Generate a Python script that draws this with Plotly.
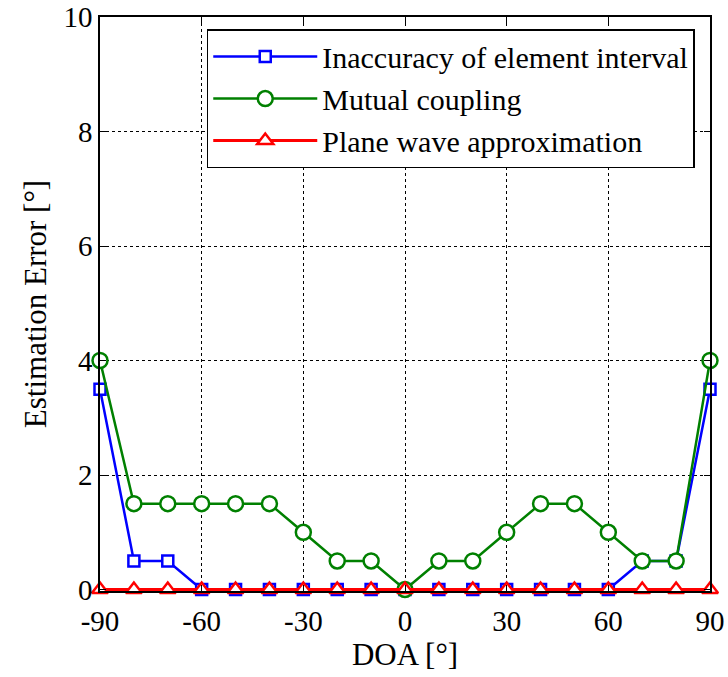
import plotly.graph_objects as go

doa = [-90, -80, -70, -60, -50, -40, -30, -20, -10, 0, 10, 20, 30, 40, 50, 60, 70, 80, 90]
inaccuracy = [3.5, 0.5, 0.5, 0, 0, 0, 0, 0, 0, 0, 0, 0, 0, 0, 0, 0, 0.5, 0.5, 3.5]
coupling = [4, 1.5, 1.5, 1.5, 1.5, 1.5, 1, 0.5, 0.5, 0, 0.5, 0.5, 1, 1.5, 1.5, 1, 0.5, 0.5, 4]
plane_wave = [0] * 19

x_ticks = [-90, -60, -30, 0, 30, 60, 90]
y_ticks = [0, 2, 4, 6, 8, 10]

font = "Liberation Serif, Times New Roman, serif"

fig = go.Figure()
fig.add_trace(go.Scatter(
    x=doa, y=inaccuracy, mode="lines+markers", name="Inaccuracy of element interval",
    line=dict(color="#0000FF", width=2.5), cliponaxis=False,
    marker=dict(symbol="square", size=11, color="white", line=dict(color="#0000FF", width=2.5)),
))
fig.add_trace(go.Scatter(
    x=doa, y=coupling, mode="lines+markers", name="Mutual coupling",
    line=dict(color="#008000", width=2.5), cliponaxis=False,
    marker=dict(symbol="circle", size=15, color="white", line=dict(color="#008000", width=2.5)),
))
fig.add_trace(go.Scatter(
    x=doa, y=plane_wave, mode="lines+markers", name="Plane wave approximation",
    line=dict(color="#FF0000", width=3), cliponaxis=False,
    marker=dict(symbol="triangle-up", size=14, color="white", line=dict(color="#FF0000", width=2.5)),
))

axis_common = dict(
    showline=True, linecolor="black", linewidth=1.5, mirror="ticks",
    ticks="inside", ticklen=6, tickcolor="black", tickwidth=1,
    showgrid=True, gridcolor="black", griddash="dot", gridwidth=1,
    zeroline=False, automargin=False,
    tickfont=dict(family=font, size=29, color="black"),
)

fig.update_layout(
    width=728, height=677,
    margin=dict(l=100, r=18, t=17, b=86),
    paper_bgcolor="white", plot_bgcolor="white",
    font=dict(family=font, size=29, color="black"),
    xaxis=dict(range=[-90, 90], tickvals=x_ticks, ticktext=[str(v) for v in x_ticks],
               title=dict(text="DOA [°]", font=dict(family=font, size=31), standoff=4),
               ticklabelstandoff=3,
               **axis_common),
    yaxis=dict(range=[-0.025, 10], tickvals=y_ticks, ticktext=[str(v) for v in y_ticks],
               title=dict(text="Estimation Error [°]", font=dict(family=font, size=31), standoff=8),
               **axis_common),
    legend=dict(x=0.975, y=0.979, xanchor="right", yanchor="top",
                bgcolor="white", bordercolor="black", borderwidth=1.5,
                font=dict(family=font, size=30, color="black"),
                itemwidth=104, tracegroupgap=0),
    showlegend=True,
)

fig.write_html("out.html")
